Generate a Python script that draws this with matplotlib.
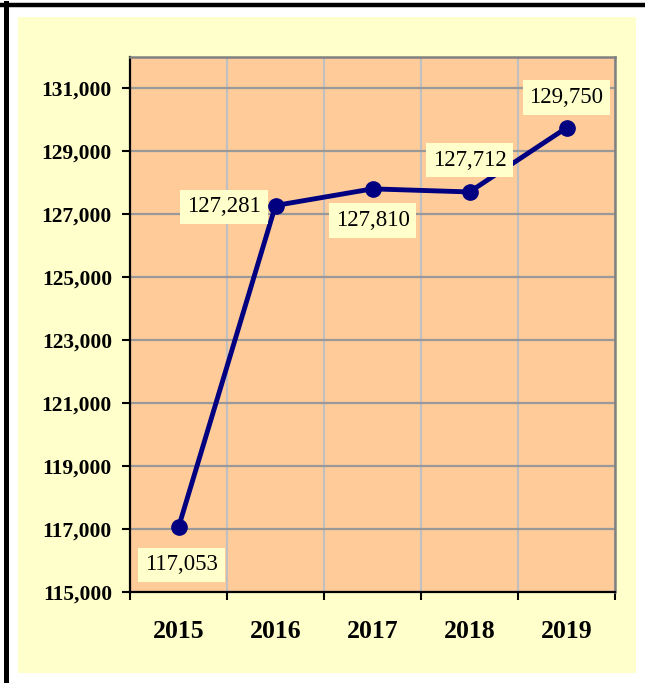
import matplotlib
matplotlib.use("Agg")
import matplotlib.pyplot as plt
from matplotlib.patches import Rectangle
from matplotlib.lines import Line2D
from matplotlib.ticker import FuncFormatter, FixedLocator

years = ["2015", "2016", "2017", "2018", "2019"]
values = [117053, 127281, 127810, 127712, 129750]
# label offsets in points (dx, dy) relative to each point
label_offsets = [(2, -27), (-37, -1), (0, -23), (0, 23), (0, 22)]

plt.rcParams['font.family'] = ['Liberation Serif', 'DejaVu Serif']

fig = plt.figure(figsize=(6.45, 6.83), dpi=100)
fig.patch.set_facecolor('white')

# outer frame pieces and yellow chart area
fig.add_artist(Rectangle((18 / 645, 10 / 683), 618 / 645, 656 / 683,
                         transform=fig.transFigure, facecolor='#FFFFCC',
                         edgecolor='none', zorder=-5))
fig.add_artist(Line2D([0, 1], [1 - 5 / 683, 1 - 5 / 683], color='black',
                      lw=3.2, transform=fig.transFigure, zorder=-4))
fig.add_artist(Line2D([5.5 / 645, 5.5 / 645], [0, 1 - 3 / 683], color='black',
                      lw=3.6, transform=fig.transFigure, zorder=-4))

ax = fig.add_axes([130 / 645, 1 - 592 / 683, 485 / 645, 535 / 683])
ax.set_zorder(1)
ax.set_facecolor('#FFCC99')

x = list(range(len(years)))
ax.plot(x, values, color='#000080', lw=3.5, marker='o', markersize=11, zorder=4,
        clip_on=False)

ax.set_xlim(-0.5, len(years) - 0.5)
ax.set_ylim(115000, 132000)
ax.yaxis.set_major_locator(FixedLocator(range(115000, 131001, 2000)))
ax.yaxis.set_major_formatter(FuncFormatter(lambda v, p: f"{int(v):,}"))
ax.set_xticks(x)
ax.set_xticklabels(years, fontsize=18.5, fontweight='bold')
ax.xaxis.set_minor_locator(FixedLocator([i - 0.5 for i in range(len(years) + 1)]))
ax.tick_params(axis='x', which='major', length=0, pad=20)
ax.tick_params(axis='x', which='minor', length=6, width=1.5, direction='out',
               color='black')
ax.tick_params(axis='y', length=6, width=1.5, direction='out', pad=7)
for lab in ax.get_yticklabels():
    lab.set_fontsize(15.5)
    lab.set_fontweight('bold')

ax.grid(axis='y', which='major', color='#999999', lw=1.6, zorder=1)
ax.grid(axis='x', which='minor', color='#C0C0C0', lw=1.6, zorder=1)
ax.set_axisbelow(True)

ax.spines['left'].set_color('black')
ax.spines['left'].set_linewidth(1.6)
ax.spines['bottom'].set_color('black')
ax.spines['bottom'].set_linewidth(1.6)
ax.spines['top'].set_color('#808080')
ax.spines['top'].set_linewidth(1.8)
ax.spines['right'].set_color('#808080')
ax.spines['right'].set_linewidth(1.8)

for xi, v, (dx, dy) in zip(x, values, label_offsets):
    ax.annotate(f"{v:,}", (xi, v), xytext=(dx, dy), textcoords='offset points',
                ha='center', va='center', fontsize=16.5, zorder=5,
                bbox=dict(boxstyle='square,pad=0.3', facecolor='#FFFFCC',
                          edgecolor='none'))

fig.savefig('out.png', dpi=100, facecolor=fig.get_facecolor())
